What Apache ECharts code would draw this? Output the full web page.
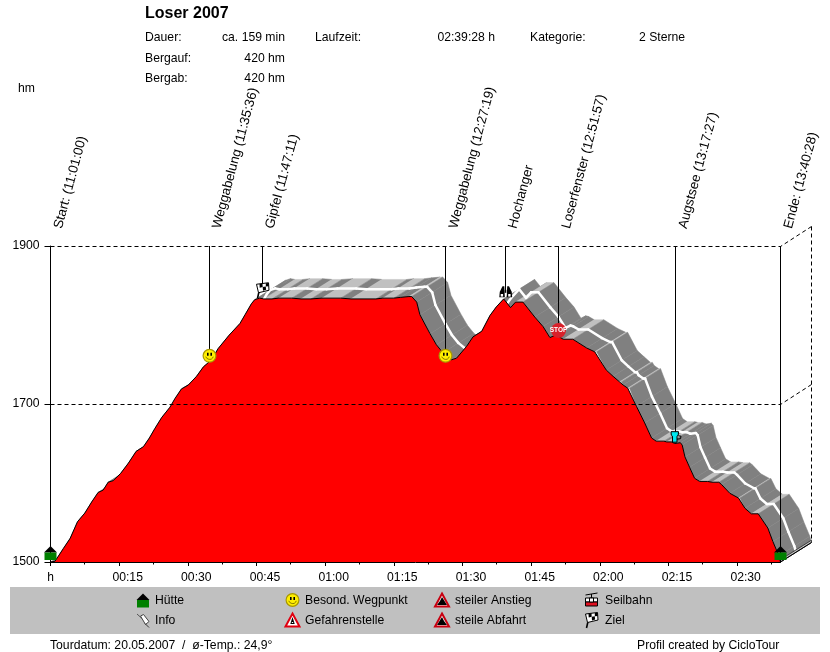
<!DOCTYPE html>
<html><head><meta charset="utf-8">
<style>html,body{margin:0;padding:0;background:#fff}#c{width:830px;height:652px}</style>
<script src="https://cdn.jsdelivr.net/npm/echarts@6/dist/echarts.min.js"></script>
</head><body><div id="c"></div>
<script>
const title = 'Loser 2007';
const headerLeft = ['Dauer:', 'Bergauf:', 'Bergab:'];
const headerValues = ['ca. 159 min', '420 hm', '420 hm'];
const tickLabels = ['h','00:15','00:30','00:45','01:00','01:15','01:30','01:45','02:00','02:15','02:30'];
const minorTicks = [7.5,22.5,37.5,52.5,67.5,82.5,97.5,112.5,127.5,142.5,157.5];
const yLevels = [1500,1700,1900];
const tourEnd = 159.47;
const timeMin = [0,1.0,2.8,4.3,5.9,7.5,9.0,10.4,11.5,12.6,13.7,15.3,17.0,18.7,20.3,21.6,22.8,24.3,26.1,27.2,28.6,30.1,31.9,33.4,35.2,36.6,39.0,41.4,42.5,43.9,44.6,45.7,
 46.6,48.4,49.9,52.7,54.7,56.9,59.3,63.4,65.6,71.1,72.6,75.0,76.5,78.3,78.9,80.0,80.7,82.9,84.3,85.7,87.6,88.7,90.9,92.3,94.2,96.0,97.4,99.0,100.5,101.6,103.2,105.8,107.6,109.1,110.2,110.8,112.0,114.1,117.1,118.9,119.3,121.4,122.9,124.3,124.7,125.1,126.1,126.5,128.0,129.8,131.3,132.3,134.0,134.6,135.6,136.4,137.6,138.0,138.6,139.6,140.7,141.8,143.5,144.5,146.0,146.6,148.4,150.3,150.6,151.7,153.1,154.6,156.7,157.8,159.1,159.47];
const elevM = [1500,1501,1517,1530,1551,1562,1576,1588,1591,1601,1603,1612,1625,1640,1646,1657,1669,1683,1696,1707,1719,1724,1735,1747,1756,1770,1787,1802,1813,1827,1832,1834,
 1833,1833,1834,1834,1833,1833,1834,1834,1833,1833,1834,1834,1835,1836,1836,1829,1813,1789,1775,1765,1756,1758,1773,1785,1792,1812,1823,1833,1822,1829,1829,1810,1798,1784,1787,1786,1782,1782,1771,1766,1766,1743,1735,1728,1728,1724,1720,1720,1697,1676,1657,1653,1653,1652,1652,1650,1651,1648,1633,1620,1606,1602,1602,1601,1601,1598,1587,1581,1581,1568,1561,1561,1543,1526,1508,1500];
const markerNames = ['Start: (11:01:00)','Weggabelung (11:35:36)','Gipfel (11:47:11)','Weggabelung (12:27:19)','Hochanger','Loserfenster (12:51:57)','Augstsee (13:17:27)','Ende: (13:40:28)'];
const markerTimes = [0,34.6,46.18,86.32,99.3,110.95,136.45,159.47];
const markerElev = [1512,1761,1844,1761,1842,1793,1658,1512];
const markerIcons = ['hut','smiley','flag','smiley','binoculars','stop','cup','hut'];
const legendNames = [['Hütte','Info'],['Besond. Wegpunkt','Gefahrenstelle'],['steiler Anstieg','steile Abfahrt'],['Seilbahn','Ziel']];
const legendIcons = [['hut','pin'],['smiley','warn'],['up','down'],['cable','flag']];
const footerLeft = 'Tourdatum: 20.05.2007  /  ø-Temp.: 24,9°';
const footerRight = 'Profil created by CicloTour';

const FONT = '"Liberation Sans", Arial, sans-serif';
const DEPTH = [31, -19.5];
const off = (p, f) => [p[0] + DEPTH[0] * f, p[1] + DEPTH[1] * f];
const snap = v => Math.floor(v) + 0.5;
const RED = '#ff0000', DARK = '#808080', LIGHT = '#c0c0c0';

function txt(s, x, y, align, font) {
  return {type:'text', x, y:y+1, style:{text:s, font:font || ('12.2px ' + FONT), fill:'#000', align:align||'left', textAlign:align||'left', verticalAlign:'middle', textVerticalAlign:'middle'}};
}
const poly = (points, fill, stroke, lw) => ({type:'polygon', shape:{points}, style:{fill:fill||'none', stroke:stroke||'none', lineWidth:lw||1}});
const pl = (points, stroke, lw) => ({type:'polyline', shape:{points}, style:{fill:'none', stroke:stroke||'#000', lineWidth:lw||1}});
const rc = (x,y,w,h,fill,stroke) => ({type:'rect', shape:{x,y,width:w,height:h}, style:{fill:fill||'none', stroke:stroke||'none', lineWidth:1}});
const cir = (x,y,r,fill,stroke,lw) => ({type:'circle', shape:{cx:x,cy:y,r}, style:{fill:fill||'none', stroke:stroke||'none', lineWidth:lw||1}});

function iconParts(kind) {
  switch (kind) {
    case 'hut': return [poly([[-6.5,0],[6.5,0],[0,-6.5]],'#000'), rc(-6,0,12,7.5,'#008000')];
    case 'smiley': return [cir(0,0,6.4,'#ffee00','#a89800',1.2), rc(-2.5,-3,1.6,3,'#000'), rc(0.9,-3,1.6,3,'#000'),
      {type:'arc', shape:{cx:0,cy:-0.5,r:4,startAngle:0.35,endAngle:2.8,clockwise:true}, style:{fill:'none',stroke:'#8a7a00',lineWidth:1}}];
    case 'flag': return [pl([[-5,8],[-3.5,1.5]],'#000',1.6),
      poly([[-6,-6],[6,-7.5],[6.5,0],[-4,2.5]],'#fff','#000',1),
      poly([[-3,-6.3],[0,-6.7],[0.2,-3.2],[-2.8,-2.6]],'#000'), poly([[0.2,-3.2],[3.3,-3.8],[3.6,-0.5],[0.5,0.4]],'#000'), poly([[3.3,-7],[6,-7.3],[6.2,-4],[3.3,-3.8]],'#000')];
    case 'binoculars': return [poly([[-6.2,5.5],[-5.7,0],[-3,-5.5],[-1.2,-5.5],[-0.7,5.5]],'#000'), poly([[6.7,5.5],[6.2,0],[3.5,-5.5],[1.7,-5.5],[1.2,5.5]],'#000'),
      rc(-0.8,-2,1.6,3,'#000'), rc(-4.8,2.2,2.4,2.6,'#fff'), rc(2.7,2.2,2.4,2.6,'#fff')];
    case 'stop': return [cir(0,0,7.5,'#d8202a'), {type:'text', x:0, y:0, style:{text:'STOP', font:'bold 6.5px '+FONT, fill:'#fff', align:'center', textAlign:'center', verticalAlign:'middle', textVerticalAlign:'middle'}}];
    case 'cup': return [poly([[-4.5,-5.5],[3,-5.5],[2.7,-2],[1.5,-1],[1.5,5],[-3,5],[-3,-1],[-4.2,-2]],'#00e8f0','#000',1), pl([[2.7,-1.5],[5.5,-1],[5,1.5],[1.5,2]],'#000',1)];
    case 'pin': return [pl([[-6,-6],[-1,-1.5]],'#555',1), {type:'polygon', shape:{points:[[-2.5,-4],[0.5,-5.5],[6,1.5],[2.5,4.5]]}, style:{fill:'#fff',stroke:'#444',lineWidth:1}}, pl([[2,3.5],[6,7.5]],'#333',1)];
    case 'warn': return [poly([[0,-6.5],[7,6.5],[-7,6.5]],'#fff','#e00010',2), poly([[0,-3],[2.2,4],[-2.2,4]],'#000'), rc(-0.7,2,1.4,1,'#fff')];
    case 'up': return [poly([[0,-6.5],[7,6.5],[-7,6.5]],'#fff','#c80010',2), poly([[0,-3],[5,5],[-5,5],[-2,1]],'#000')];
    case 'down': return [poly([[0,-6.5],[7,6.5],[-7,6.5]],'#fff','#c80010',2), poly([[0,-3],[2,1],[5,5],[-5,5]],'#000')];
    case 'cable': return [pl([[-6,-5],[6,-7]],'#000',1), pl([[0,-6],[0,-2]],'#000',1), rc(-6,-2,12,4,'#fff','#000'), rc(-6,2,12,4,'#e01020','#000'), rc(-2,-2,4,4,'#fff','#000')];
  }
  return [];
}
const icon = (kind, x, y) => ({type:'group', x, y, children:iconParts(kind)});

const graphicEls = [
  txt(title,145,13,'left','bold 16px '+FONT),
  txt('hm',18,88),
  txt('Laufzeit:',315,37), txt('02:39:28 h',495,37,'right'),
  txt('Kategorie:',530,37), txt('2 Sterne',639,37),
  {type:'rect', shape:{x:10,y:587,width:810,height:47}, style:{fill:'#c0c0c0'}, z:0},
  txt(footerLeft,50,645), txt(footerRight,637,645)
];
headerLeft.forEach((s,i)=>{ const y=37+i*20.5; graphicEls.push(txt(s,145,y), txt(headerValues[i],285,y,'right')); });
const legIconX=[143,292.5,442,591.5], legTextX=[155,305,455,605], legY=[600,620];
legendNames.forEach((col,c)=>col.forEach((s,r)=>{
  graphicEls.push(icon(legendIcons[c][r],legIconX[c],legY[r]), txt(s,legTextX[c],legY[r]));
}));

const segments = timeMin.slice(1).map((t,i)=>[timeMin[i],elevM[i],t,elevM[i+1]]);

const option = {
  animation:false, backgroundColor:'#fff',
  textStyle:{fontFamily:FONT},
  graphic:{elements:graphicEls},
  grid:{left:50.5, top:246, width:730, height:316, containLabel:false},
  xAxis:{type:'value', min:0, max:tourEnd, interval:15, z:4,
    axisLine:{show:true,lineStyle:{color:'#000'}},
    axisTick:{show:true,length:4,lineStyle:{color:'#000'}},
    splitLine:{show:false}, minorTick:{show:false},
    axisLabel:{margin:10, showMaxLabel:false, showMinLabel:true, hideOverlap:false, color:'#000', fontSize:12,
      formatter:v=>{ const k=Math.round(v/15); if(Math.abs(v-k*15)>1e-6||!tickLabels[k]) return ''; return k===0?'{h|h}':'{t|'+tickLabels[k]+'}'; },
      rich:{h:{fontSize:12,color:'#000',fontFamily:FONT}, t:{fontSize:12.2,color:'#000',fontFamily:FONT,padding:[0,0,0,17]}}}
  },
  yAxis:{type:'value', min:1500, max:1900, z:4,
    axisLine:{show:true,lineStyle:{color:'#000'}},
    axisTick:{show:true,length:6,customValues:yLevels,lineStyle:{color:'#000'}},
    splitLine:{show:false},
    axisLabel:{margin:11,color:'#000',fontSize:12.2,padding:[2,0,0,0],customValues:yLevels,formatter:v=>String(v)}
  },
  series:[
    {type:'custom', name:'ribbon', coordinateSystem:'cartesian2d', z:1, silent:true, encode:{x:[0,2],y:[1,3]}, data:segments,
      renderItem:(p,api)=>{
        const a=api.coord([api.value(0),api.value(1)]), b=api.coord([api.value(2),api.value(3)]);
        const col = api.value(1)===api.value(3)?LIGHT:DARK;
        return {type:'polygon', shape:{points:[a,b,off(b,1),off(a,1)]}, style:{fill:col,stroke:col,lineWidth:0.5}};
      }},
    {type:'custom', name:'centerline', coordinateSystem:'cartesian2d', z:2, silent:true, encode:{x:[0,2],y:[1,3]}, data:segments,
      renderItem:(p,api)=>{
        const a=api.coord([api.value(0),api.value(1)]), b=api.coord([api.value(2),api.value(3)]);
        return {type:'polyline', shape:{points:[off(a,0.5),off(b,0.5)]}, style:{fill:'none',stroke:'#fff',lineWidth:2.5,lineCap:'round'}};
      }},
    {type:'line', name:'profile', z:3, silent:true, showSymbol:false, symbol:'none', clip:false,
      data:timeMin.map((t,i)=>[t,elevM[i]]),
      lineStyle:{color:'#000',width:1}, areaStyle:{color:RED,opacity:1,origin:'start'}},
    {type:'custom', name:'levels', coordinateSystem:'cartesian2d', z:4, silent:true, encode:{y:0}, data:yLevels.map(v=>[v]),
      renderItem:(p,api)=>{
        const v=api.value(0), L=api.coord([0,v]), R=api.coord([tourEnd,v]), B=off(R,1);
        const dash={fill:'none',stroke:'#000',lineWidth:1,lineDash:[4,3]};
        if(v===yLevels[0]){
          const U=api.coord([tourEnd,v+3]);
          return {type:'group',children:[
            {type:'polygon',shape:{points:[R,U,off(U,1),B]},style:{fill:LIGHT,stroke:'#404040',lineWidth:1}},
            {type:'polyline',shape:{points:[R,B]},style:{fill:'none',stroke:'#000',lineWidth:1}}]};
        }
        const y=snap(L[1]);
        const kids=[{type:'polyline',shape:{points:[[L[0],y],[R[0],y],[B[0],snap(B[1])]]},style:dash}];
        if(v===yLevels[2]){
          const X=snap(B[0]);
          kids.push({type:'polyline',shape:{points:[[X,snap(B[1])],[X,off(api.coord([tourEnd,yLevels[0]+3]),1)[1]]]},style:dash});
        }
        return {type:'group',children:kids};
      }},
    {type:'custom', name:'minorTicks', coordinateSystem:'cartesian2d', z:4, silent:true, encode:{x:0}, data:minorTicks.map(v=>[v]),
      renderItem:(p,api)=>{ const a=api.coord([api.value(0),1500]); const x=snap(a[0]); return {type:'polyline',shape:{points:[[x,a[1]],[x,a[1]+2.5]]},style:{fill:'none',stroke:'#000',lineWidth:1}}; }},
    {type:'custom', name:'markers', coordinateSystem:'cartesian2d', z:5, silent:true, encode:{x:0,y:1}, data:markerTimes.map((t,i)=>[t,markerElev[i],i]),
      renderItem:(p,api)=>{
        const i=api.value(2), a=api.coord([api.value(0),api.value(1)]), top=api.coord([api.value(0),1900]);
        const base=api.coord([api.value(0),1500]);
        const isEnd=i===0||i===markerTimes.length-1;
        const x=snap(a[0]+0.2);
        return {type:'group',children:[
          {type:'polyline',shape:{points:[[x,top[1]],[x,isEnd?base[1]:a[1]]]},style:{fill:'none',stroke:'#000',lineWidth:1}},
          {type:'group',x:x,y:a[1],children:iconParts(markerIcons[i])},
          {type:'text',x:a[0]+14,y:230,rotation:75*Math.PI/180,style:{text:markerNames[i],font:'13.3px '+FONT,fill:'#000',align:'left',textAlign:'left',verticalAlign:'bottom',textVerticalAlign:'bottom'}}
        ]};
      }}
  ]
};
const chart=echarts.init(document.getElementById('c'),null,{renderer:'canvas'});
chart.setOption(option);
</script></body></html>
